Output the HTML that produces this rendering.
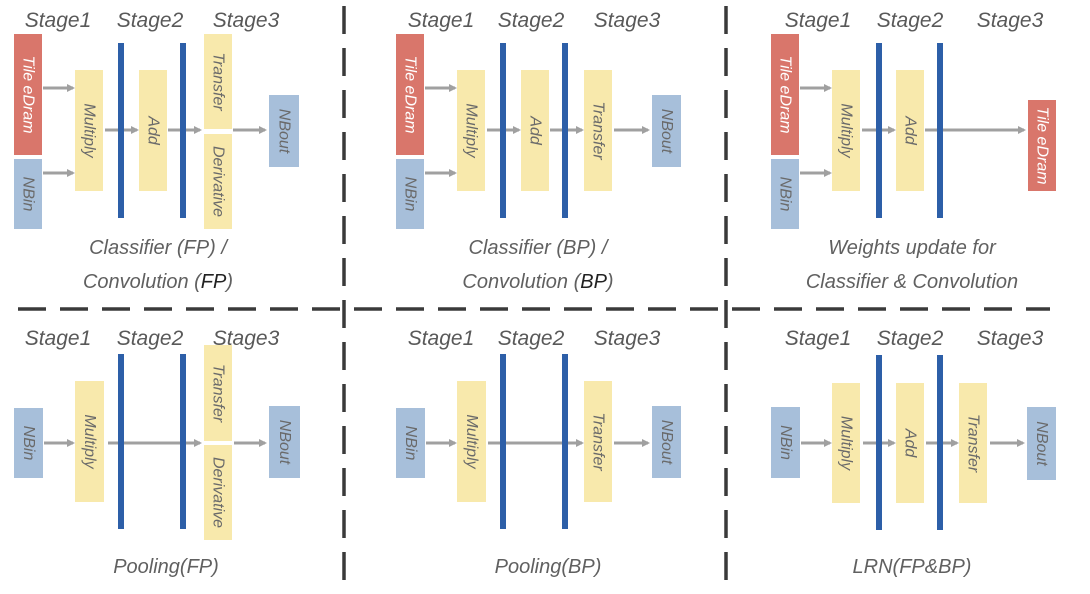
<!DOCTYPE html>
<html><head><meta charset="utf-8"><style>
html,body{margin:0;padding:0;background:#fff;}
svg{display:block;}
text{font-family:"Liberation Sans","DejaVu Sans",sans-serif;font-style:italic;fill:#666;}
.st{font-size:21px;fill:#595959;}
.cap{font-size:20px;fill:#606060;}
.v{font-size:16px;fill:#6a6a6a;}
.vr{font-size:16px;fill:#fff;}
.r{fill:#d9766b;}
.b{fill:#a7bfda;}
.y{fill:#f8e9ac;}
.bar{fill:#2d5fa8;}
.ar{stroke:#a0a0a0;stroke-width:3;fill:none;}
.dash{stroke:#3a3a3a;stroke-width:3.5;stroke-dasharray:28 14;fill:none;}
</style></head><body>
<svg width="1090" height="594" viewBox="0 0 1090 594" xmlns="http://www.w3.org/2000/svg">
<defs>
<marker id="ah" markerWidth="8" markerHeight="8" refX="6" refY="4" orient="auto" markerUnits="userSpaceOnUse"><path d="M0,0 L8,4 L0,8 z" fill="#a0a0a0"/></marker>
</defs>

<!-- dashed dividers -->
<line class="dash" x1="18" y1="309" x2="1050" y2="309"/>
<line class="dash" x1="344" y1="6" x2="344" y2="590"/>
<line class="dash" x1="726" y1="6" x2="726" y2="590"/>

<!-- ===== Panel 1 ===== -->
<text class="st" x="58" y="27" text-anchor="middle">Stage1</text>
<text class="st" x="150" y="27" text-anchor="middle">Stage2</text>
<text class="st" x="246" y="27" text-anchor="middle">Stage3</text>
<rect class="r" x="14" y="34" width="28" height="121"/>
<text class="vr" transform="translate(28,94.5) rotate(90)" text-anchor="middle" dominant-baseline="central">Tile eDram</text>
<rect class="b" x="14" y="159" width="28" height="70"/>
<text class="v" transform="translate(28,194) rotate(90)" text-anchor="middle" dominant-baseline="central">NBin</text>
<rect class="y" x="75" y="70" width="28" height="121"/>
<text class="v" transform="translate(89,130.5) rotate(90)" text-anchor="middle" dominant-baseline="central">Multiply</text>
<rect class="y" x="139" y="70" width="28" height="121"/>
<text class="v" transform="translate(153,130.5) rotate(90)" text-anchor="middle" dominant-baseline="central">Add</text>
<rect class="y" x="204" y="34" width="28" height="95"/>
<text class="v" transform="translate(218,81.5) rotate(90)" text-anchor="middle" dominant-baseline="central">Transfer</text>
<rect class="y" x="204" y="134" width="28" height="95"/>
<text class="v" transform="translate(218,181.5) rotate(90)" text-anchor="middle" dominant-baseline="central">Derivative</text>
<rect class="b" x="269" y="95" width="30" height="72"/>
<text class="v" transform="translate(284,131) rotate(90)" text-anchor="middle" dominant-baseline="central">NBout</text>
<line class="ar" x1="43" y1="88" x2="73" y2="88" marker-end="url(#ah)"/>
<line class="ar" x1="43" y1="173" x2="73" y2="173" marker-end="url(#ah)"/>
<line class="ar" x1="105" y1="130" x2="137" y2="130" marker-end="url(#ah)"/>
<line class="ar" x1="168" y1="130" x2="200" y2="130" marker-end="url(#ah)"/>
<line class="ar" x1="233" y1="130" x2="265" y2="130" marker-end="url(#ah)"/>
<rect class="bar" x="118" y="43" width="6" height="175"/>
<rect class="bar" x="180" y="43" width="6" height="175"/>
<text class="cap" x="158" y="254" text-anchor="middle">Classifier (FP) /</text>
<text class="cap" x="158" y="288" text-anchor="middle">Convolution (<tspan fill="#222">FP</tspan>)</text>

<!-- ===== Panel 2 ===== -->
<text class="st" x="441" y="27" text-anchor="middle">Stage1</text>
<text class="st" x="531" y="27" text-anchor="middle">Stage2</text>
<text class="st" x="627" y="27" text-anchor="middle">Stage3</text>
<rect class="r" x="396" y="34" width="28" height="121"/>
<text class="vr" transform="translate(410,94.5) rotate(90)" text-anchor="middle" dominant-baseline="central">Tile eDram</text>
<rect class="b" x="396" y="159" width="28" height="70"/>
<text class="v" transform="translate(410,194) rotate(90)" text-anchor="middle" dominant-baseline="central">NBin</text>
<rect class="y" x="457" y="70" width="28" height="121"/>
<text class="v" transform="translate(471,130.5) rotate(90)" text-anchor="middle" dominant-baseline="central">Multiply</text>
<rect class="y" x="521" y="70" width="28" height="121"/>
<text class="v" transform="translate(535,130.5) rotate(90)" text-anchor="middle" dominant-baseline="central">Add</text>
<rect class="y" x="584" y="70" width="28" height="121"/>
<text class="v" transform="translate(598,130.5) rotate(90)" text-anchor="middle" dominant-baseline="central">Transfer</text>
<rect class="b" x="652" y="95" width="29" height="72"/>
<text class="v" transform="translate(666.5,131) rotate(90)" text-anchor="middle" dominant-baseline="central">NBout</text>
<line class="ar" x1="425" y1="88" x2="455" y2="88" marker-end="url(#ah)"/>
<line class="ar" x1="425" y1="173" x2="455" y2="173" marker-end="url(#ah)"/>
<line class="ar" x1="487" y1="130" x2="519" y2="130" marker-end="url(#ah)"/>
<line class="ar" x1="550" y1="130" x2="582" y2="130" marker-end="url(#ah)"/>
<line class="ar" x1="614" y1="130" x2="648" y2="130" marker-end="url(#ah)"/>
<rect class="bar" x="500" y="43" width="6" height="175"/>
<rect class="bar" x="562" y="43" width="6" height="175"/>
<text class="cap" x="538" y="254" text-anchor="middle">Classifier (BP) /</text>
<text class="cap" x="538" y="288" text-anchor="middle">Convolution (<tspan fill="#222">BP</tspan>)</text>

<!-- ===== Panel 3 ===== -->
<text class="st" x="818" y="27" text-anchor="middle">Stage1</text>
<text class="st" x="910" y="27" text-anchor="middle">Stage2</text>
<text class="st" x="1010" y="27" text-anchor="middle">Stage3</text>
<rect class="r" x="771" y="34" width="28" height="121"/>
<text class="vr" transform="translate(785,94.5) rotate(90)" text-anchor="middle" dominant-baseline="central">Tile eDram</text>
<rect class="b" x="771" y="159" width="28" height="70"/>
<text class="v" transform="translate(785,194) rotate(90)" text-anchor="middle" dominant-baseline="central">NBin</text>
<rect class="y" x="832" y="70" width="28" height="121"/>
<text class="v" transform="translate(846,130.5) rotate(90)" text-anchor="middle" dominant-baseline="central">Multiply</text>
<rect class="y" x="896" y="70" width="28" height="121"/>
<text class="v" transform="translate(910,130.5) rotate(90)" text-anchor="middle" dominant-baseline="central">Add</text>
<rect class="r" x="1028" y="100" width="28" height="91"/>
<text class="vr" transform="translate(1042,145.5) rotate(90)" text-anchor="middle" dominant-baseline="central">Tile eDram</text>
<line class="ar" x1="800" y1="88" x2="830" y2="88" marker-end="url(#ah)"/>
<line class="ar" x1="800" y1="173" x2="830" y2="173" marker-end="url(#ah)"/>
<line class="ar" x1="862" y1="130" x2="894" y2="130" marker-end="url(#ah)"/>
<line class="ar" x1="925" y1="130" x2="1024" y2="130" marker-end="url(#ah)"/>
<rect class="bar" x="876" y="43" width="6" height="175"/>
<rect class="bar" x="937" y="43" width="6" height="175"/>
<text class="cap" x="912" y="254" text-anchor="middle">Weights update for</text>
<text class="cap" x="912" y="288" text-anchor="middle">Classifier &amp; Convolution</text>

<!-- ===== Panel 4 ===== -->
<text class="st" x="58" y="345" text-anchor="middle">Stage1</text>
<text class="st" x="150" y="345" text-anchor="middle">Stage2</text>
<text class="st" x="246" y="345" text-anchor="middle">Stage3</text>
<rect class="b" x="14" y="408" width="29" height="70"/>
<text class="v" transform="translate(28.5,443) rotate(90)" text-anchor="middle" dominant-baseline="central">NBin</text>
<rect class="y" x="75" y="381" width="29" height="121"/>
<text class="v" transform="translate(89.5,441.5) rotate(90)" text-anchor="middle" dominant-baseline="central">Multiply</text>
<rect class="y" x="204" y="345" width="28" height="96"/>
<text class="v" transform="translate(218,393) rotate(90)" text-anchor="middle" dominant-baseline="central">Transfer</text>
<rect class="y" x="204" y="445" width="28" height="95"/>
<text class="v" transform="translate(218,492.5) rotate(90)" text-anchor="middle" dominant-baseline="central">Derivative</text>
<rect class="b" x="269" y="406" width="31" height="72"/>
<text class="v" transform="translate(284.5,442) rotate(90)" text-anchor="middle" dominant-baseline="central">NBout</text>
<line class="ar" x1="44" y1="443" x2="73" y2="443" marker-end="url(#ah)"/>
<line class="ar" x1="108" y1="443" x2="200" y2="443" marker-end="url(#ah)"/>
<line class="ar" x1="234" y1="443" x2="265" y2="443" marker-end="url(#ah)"/>
<rect class="bar" x="118" y="354" width="6" height="175"/>
<rect class="bar" x="180" y="354" width="6" height="175"/>
<text class="cap" x="166" y="573" text-anchor="middle">Pooling(FP)</text>

<!-- ===== Panel 5 ===== -->
<text class="st" x="441" y="345" text-anchor="middle">Stage1</text>
<text class="st" x="531" y="345" text-anchor="middle">Stage2</text>
<text class="st" x="627" y="345" text-anchor="middle">Stage3</text>
<rect class="b" x="396" y="408" width="29" height="70"/>
<text class="v" transform="translate(410.5,443) rotate(90)" text-anchor="middle" dominant-baseline="central">NBin</text>
<rect class="y" x="457" y="381" width="29" height="121"/>
<text class="v" transform="translate(471.5,441.5) rotate(90)" text-anchor="middle" dominant-baseline="central">Multiply</text>
<rect class="y" x="584" y="381" width="28" height="121"/>
<text class="v" transform="translate(598,441.5) rotate(90)" text-anchor="middle" dominant-baseline="central">Transfer</text>
<rect class="b" x="652" y="406" width="29" height="72"/>
<text class="v" transform="translate(666.5,442) rotate(90)" text-anchor="middle" dominant-baseline="central">NBout</text>
<line class="ar" x1="426" y1="443" x2="455" y2="443" marker-end="url(#ah)"/>
<line class="ar" x1="488" y1="443" x2="582" y2="443" marker-end="url(#ah)"/>
<line class="ar" x1="614" y1="443" x2="648" y2="443" marker-end="url(#ah)"/>
<rect class="bar" x="500" y="354" width="6" height="175"/>
<rect class="bar" x="562" y="354" width="6" height="175"/>
<text class="cap" x="548" y="573" text-anchor="middle">Pooling(BP)</text>

<!-- ===== Panel 6 ===== -->
<text class="st" x="818" y="345" text-anchor="middle">Stage1</text>
<text class="st" x="910" y="345" text-anchor="middle">Stage2</text>
<text class="st" x="1010" y="345" text-anchor="middle">Stage3</text>
<rect class="b" x="771" y="407" width="29" height="71"/>
<text class="v" transform="translate(785.5,442.5) rotate(90)" text-anchor="middle" dominant-baseline="central">NBin</text>
<rect class="y" x="832" y="383" width="28" height="120"/>
<text class="v" transform="translate(846,443) rotate(90)" text-anchor="middle" dominant-baseline="central">Multiply</text>
<rect class="y" x="896" y="383" width="28" height="120"/>
<text class="v" transform="translate(910,443) rotate(90)" text-anchor="middle" dominant-baseline="central">Add</text>
<rect class="y" x="959" y="383" width="28" height="120"/>
<text class="v" transform="translate(973,443) rotate(90)" text-anchor="middle" dominant-baseline="central">Transfer</text>
<rect class="b" x="1027" y="407" width="29" height="73"/>
<text class="v" transform="translate(1041.5,443.5) rotate(90)" text-anchor="middle" dominant-baseline="central">NBout</text>
<line class="ar" x1="801" y1="443" x2="830" y2="443" marker-end="url(#ah)"/>
<line class="ar" x1="863" y1="443" x2="894" y2="443" marker-end="url(#ah)"/>
<line class="ar" x1="926" y1="443" x2="957" y2="443" marker-end="url(#ah)"/>
<line class="ar" x1="990" y1="443" x2="1023" y2="443" marker-end="url(#ah)"/>
<rect class="bar" x="876" y="355" width="6" height="175"/>
<rect class="bar" x="937" y="355" width="6" height="175"/>
<text class="cap" x="912" y="573" text-anchor="middle">LRN(FP&amp;BP)</text>
</svg>
</body></html>
